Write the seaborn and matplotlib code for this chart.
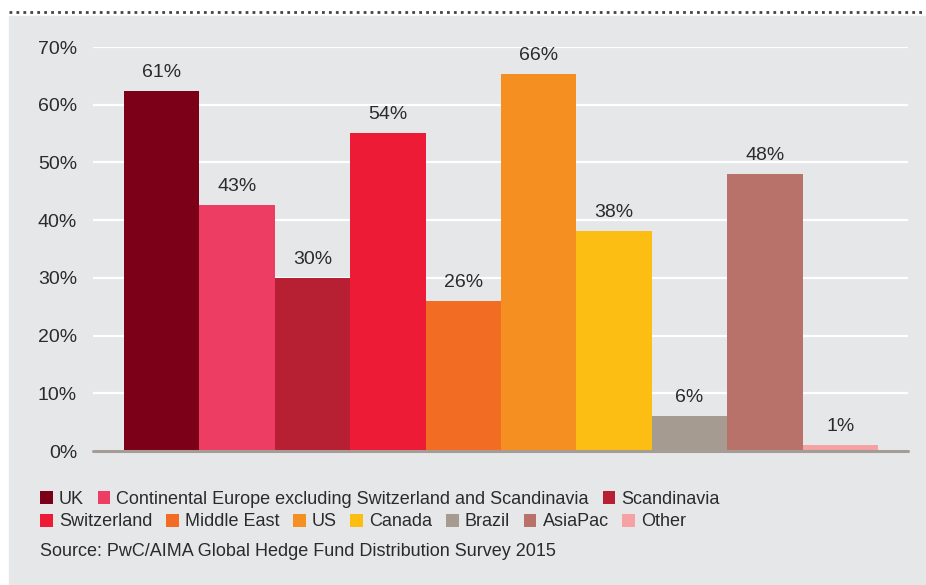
import pandas as pd
import matplotlib.pyplot as plt
import seaborn as sns
from matplotlib.patches import Patch, Rectangle
from matplotlib.lines import Line2D
from matplotlib.ticker import FuncFormatter

# Data
regions = ["UK", "Continental Europe excluding Switzerland and Scandinavia",
           "Scandinavia", "Switzerland", "Middle East", "US", "Canada",
           "Brazil", "AsiaPac", "Other"]
bar_heights = [62.4, 42.6, 30.0, 55.1, 26.0, 65.3, 38.1, 6.1, 48.0, 1.0]
bar_labels = ["61%", "43%", "30%", "54%", "26%", "66%", "38%", "6%", "48%", "1%"]
colors = ["#7d0019", "#ee3d63", "#b71f33", "#ed1b36", "#f26c24",
          "#f68f21", "#fdbe14", "#a69b91", "#b8726a", "#f6a1a3"]
yticks = [0, 10, 20, 30, 40, 50, 60, 70]
source = "Source: PwC/AIMA Global Hedge Fund Distribution Survey 2015"

df = pd.DataFrame({"region": regions, "value": bar_heights})

sns.set_style("white")
plt.rcParams["font.family"] = ["Liberation Sans", "DejaVu Sans"]
text_col = "#2b2b2b"
panel_col = "#e6e7e8"

fig = plt.figure(figsize=(9.26, 5.85), dpi=100, facecolor="white")
W, H = 926, 585

# grey panel + dotted rule on top
fig.patches.append(Rectangle((9 / W, 0), 1 - 9 / W, 1 - 16 / H,
                             transform=fig.transFigure, color=panel_col, zorder=-10))
fig.lines.append(Line2D([9 / W, 1], [1 - 12 / H, 1 - 12 / H], transform=fig.transFigure,
                        color="#444444", linestyle=(0, (1, 1.5)), linewidth=2))

ax = fig.add_axes([93 / W, 1 - 451 / H, 815 / W, (451 - 47) / H])
ax.patch.set_alpha(0)

sns.barplot(data=df, x="region", y="value", hue="region", palette=colors,
            width=1, saturation=1, legend=False, ax=ax, zorder=3,
            linewidth=0, edgecolor="none")

ax.set_xlim(-0.911, 9.898)
ax.set_ylim(0, 70)
ax.set_yticks(yticks)
ax.yaxis.set_major_formatter(FuncFormatter(lambda v, p: f"{int(v)}%"))
ax.set_xticks([])
ax.set_xlabel("")
ax.set_ylabel("")
ax.tick_params(axis="y", length=0, pad=11.5, labelsize=14, labelcolor=text_col)
ax.grid(axis="y", color="white", linewidth=1.6, zorder=1)
ax.set_axisbelow(True)
for s in ax.spines.values():
    s.set_visible(False)
ax.axhline(0, color="#a59d95", linewidth=2.2, zorder=4, clip_on=False)

# value labels
for i, (v, lab) in enumerate(zip(bar_heights, bar_labels)):
    ax.annotate(lab, (i, v), xytext=(0, 13.5), textcoords="offset points",
                ha="center", va="center", fontsize=14, color=text_col)

# legend in two flowing rows
handles = [Patch(facecolor=c, edgecolor="none") for c in colors]
leg_kw = dict(frameon=False, loc="center left", borderpad=0, borderaxespad=0,
              handlelength=0.7, handleheight=0.7, handletextpad=0.35,
              columnspacing=0.75, fontsize=13, labelcolor=text_col)
fig.legend(handles[:3], regions[:3], ncol=3,
           bbox_to_anchor=(40 / W, 1 - 499 / H), **leg_kw)
fig.legend(handles[3:], regions[3:], ncol=7,
           bbox_to_anchor=(40 / W, 1 - 522 / H), **leg_kw)

fig.text(40 / W, 1 - 551 / H, source, ha="left", va="center",
         fontsize=13, color=text_col)

fig.savefig("out.png", dpi=100, facecolor="white")
